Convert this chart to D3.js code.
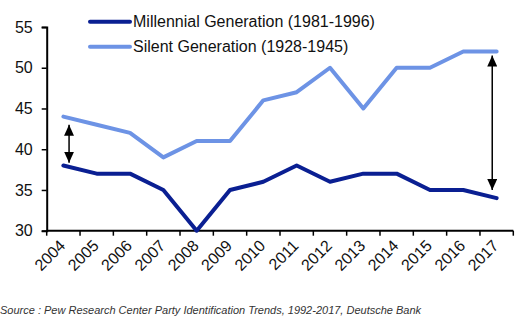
<!DOCTYPE html>
<html>
<head>
<meta charset="utf-8">
<script src="https://cdn.jsdelivr.net/npm/d3@7"></script>
<style>
  html, body { margin: 0; padding: 0; background: #fff; }
  svg { display: block; font-family: "Liberation Sans", Arial, sans-serif; }
</style>
</head>
<body>
<svg id="chart" width="522" height="322"></svg>
<script>
// ---- data ----
const years = ["2004","2005","2006","2007","2008","2009","2010","2011","2012","2013","2014","2015","2016","2017"];
const millennial = [38, 37, 37, 35, 30, 35, 36, 38, 36, 37, 37, 35, 35, 34];
const silent     = [44, 43, 42, 39, 41, 41, 46, 47, 50, 45, 50, 50, 52, 52];
const seriesNames = ["Millennial Generation (1981-1996)", "Silent Generation (1928-1945)"];
const yTicks = [30, 35, 40, 45, 50, 55];
const arrowYears = ["2004", "2017"];
const arrowFrom = [43.0, 51.5];
const arrowTo = [38.35, 35.0];
const sourceText = "Source : Pew Research Center Party Identification Trends, 1992-2017, Deutsche Bank";

// ---- layout ----
const colors = ["#0a1f92", "#6d93e5"];
const svg = d3.select("#chart");
const x = d3.scaleBand().domain(years).range([46.7, 513.3]).padding(0);
const y = d3.scaleLinear().domain([30, 55]).range([230.7, 27]);
const cx = d => x(d) + x.bandwidth() / 2;

// y axis
const yAxis = svg.append("g").attr("transform", `translate(${x.range()[0]},0)`)
  .call(d3.axisLeft(y).tickValues(yTicks).tickSize(5).tickPadding(9).tickFormat(d3.format("d")));
yAxis.select(".domain").attr("stroke", "#000").attr("stroke-width", 2);
yAxis.selectAll(".tick line").attr("stroke", "#000").attr("stroke-width", 1.5);
yAxis.selectAll(".tick text").attr("font-size", 16).attr("fill", "#111")
  .attr("font-family", "Liberation Sans, Arial, sans-serif");

// x axis (tick marks at category boundaries, labels rotated)
const xg = svg.append("g").attr("transform", `translate(0,${y(30)})`);
xg.append("line").attr("x1", x.range()[0]).attr("x2", x.range()[1])
  .attr("stroke", "#000").attr("stroke-width", 2);
const bounds = years.map(d => x(d)).concat([x.range()[1]]);
xg.selectAll("line.tk").data(bounds).enter().append("line").attr("class", "tk")
  .attr("x1", d => d).attr("x2", d => d).attr("y1", 0).attr("y2", 5)
  .attr("stroke", "#000").attr("stroke-width", 1.5);
xg.selectAll("text").data(years).enter().append("text")
  .attr("transform", d => `translate(${cx(d) + 3},16) rotate(-45)`)
  .attr("text-anchor", "end").attr("font-size", 16).attr("fill", "#111")
  .text(d => d);

// lines
const line = d3.line().x((v, i) => cx(years[i])).y(v => y(v));
[millennial, silent].forEach((s, i) => {
  svg.append("path").datum(s).attr("d", line)
    .attr("fill", "none").attr("stroke", colors[i]).attr("stroke-width", 4)
    .attr("stroke-linejoin", "round").attr("stroke-linecap", "round");
});

// arrows
const defs = svg.append("defs");
defs.append("marker").attr("id", "ah").attr("viewBox", "0 0 10 10")
  .attr("refX", 10).attr("refY", 5).attr("markerWidth", 11).attr("markerHeight", 10)
  .attr("preserveAspectRatio", "none")
  .attr("markerUnits", "userSpaceOnUse").attr("orient", "auto-start-reverse")
  .append("path").attr("d", "M0,0 L10,5 L0,10 Z").attr("fill", "#000");
const shifts = [5.7, -4.4];
arrowYears.forEach((yr, i) => {
  svg.append("line")
    .attr("x1", cx(yr) + shifts[i]).attr("x2", cx(yr) + shifts[i])
    .attr("y1", y(arrowFrom[i])).attr("y2", y(arrowTo[i]))
    .attr("stroke", "#000").attr("stroke-width", 1.5)
    .attr("marker-start", "url(#ah)").attr("marker-end", "url(#ah)");
});

// legend
const lg = svg.append("g");
seriesNames.forEach((n, i) => {
  const ly = 21.7 + i * 25;
  lg.append("line").attr("x1", 90).attr("x2", 130).attr("y1", ly).attr("y2", ly)
    .attr("stroke", colors[i]).attr("stroke-width", 4).attr("stroke-linecap", "round");
  lg.append("text").attr("x", 133).attr("y", ly + 5.6).attr("font-size", 16)
    .attr("fill", "#111").text(n);
});

// source
svg.append("text").attr("x", 0).attr("y", 314).attr("font-size", 11)
  .attr("font-style", "italic").attr("fill", "#333").text(sourceText);
</script>
</body>
</html>
